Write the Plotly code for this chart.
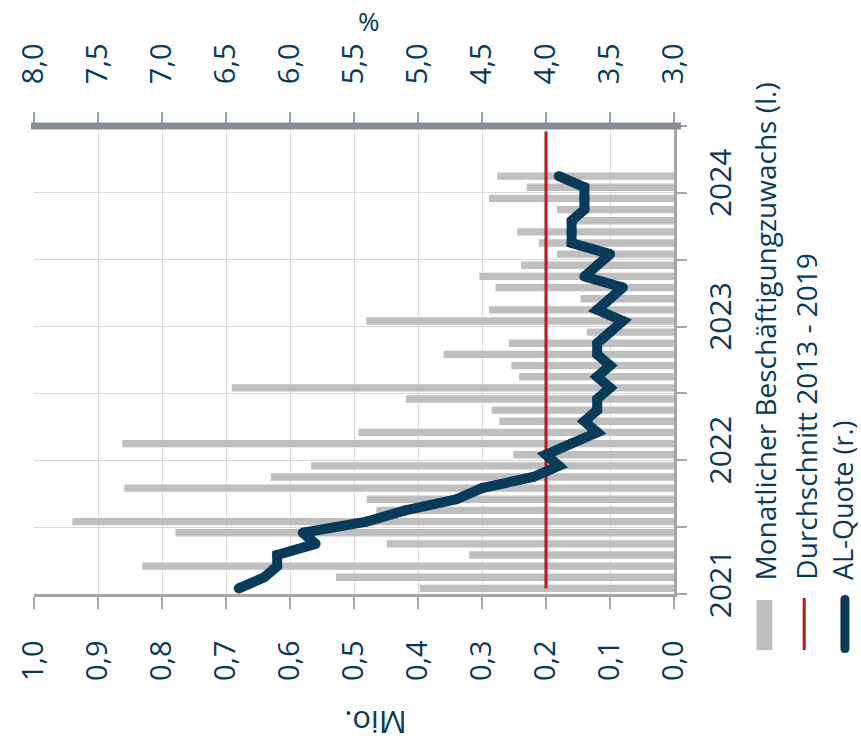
import plotly.graph_objects as go

# Monthly categories on the time axis (Jan 2021 - Jun 2024)
months = [
    "2021-01", "2021-02", "2021-03", "2021-04", "2021-05", "2021-06",
    "2021-07", "2021-08", "2021-09", "2021-10", "2021-11", "2021-12",
    "2022-01", "2022-02", "2022-03", "2022-04", "2022-05", "2022-06",
    "2022-07", "2022-08", "2022-09", "2022-10", "2022-11", "2022-12",
    "2023-01", "2023-02", "2023-03", "2023-04", "2023-05", "2023-06",
    "2023-07", "2023-08", "2023-09", "2023-10", "2023-11", "2023-12",
    "2024-01", "2024-02", "2024-03", "2024-04", "2024-05", "2024-06",
]

# Monatlicher Beschäftigungszuwachs, Mio. (left scale)
job_growth = [
    0.397, 0.528, 0.831, 0.320, 0.449, 0.779, 0.940, 0.465, 0.480, 0.859,
    0.630, 0.567, 0.251, 0.862, 0.493, 0.273, 0.285, 0.419, 0.691, 0.242,
    0.254, 0.360, 0.258, 0.136, 0.481, 0.289, 0.146, 0.279, 0.304, 0.239,
    0.183, 0.211, 0.245, 0.155, 0.183, 0.289, 0.230, 0.276,
]

# Arbeitslosenquote, % (right scale)
unemployment_rate = [
    6.4, 6.2, 6.1, 6.1, 5.8, 5.9, 5.4, 5.1, 4.7, 4.5,
    4.1, 3.9, 4.0, 3.8, 3.6, 3.7, 3.6, 3.6, 3.5, 3.6,
    3.5, 3.6, 3.6, 3.5, 3.4, 3.6, 3.5, 3.4, 3.7, 3.6,
    3.5, 3.8, 3.8, 3.8, 3.7, 3.7, 3.7, 3.9,
]

# Durchschnitt 2013 - 2019, Mio.
avg_2013_2019 = [0.2] * len(months)

year_labels = ["2021", "2022", "2023", "2024"]
year_positions = [months.index(y + "-01") for y in year_labels]
half_year_bounds = [i - 0.5 for i in range(0, len(months) + 1, 6)]

mio_ticks = [1.0, 0.9, 0.8, 0.7, 0.6, 0.5, 0.4, 0.3, 0.2, 0.1, 0.0]
pct_ticks = [8.0, 7.5, 7.0, 6.5, 6.0, 5.5, 5.0, 4.5, 4.0, 3.5, 3.0]

NAVY = "#083a59"
GREY_BAR = "#bfbfbf"
RED = "#c0141c"
AXIS_GREY = "#a6a6a6"
GRID = "#dadada"
FONT = "Open Sans"

pos = list(range(len(months)))

fig = go.Figure()

fig.add_trace(go.Bar(
    x=job_growth, y=pos[:len(job_growth)], orientation="h",
    marker=dict(color=GREY_BAR, line=dict(width=0)),
    name="Monatlicher Beschäftigungzuwachs (l.)",
    xaxis="x", yaxis="y",
))

fig.add_trace(go.Scatter(
    x=avg_2013_2019, y=pos, mode="lines",
    line=dict(color=RED, width=3),
    name="Durchschnitt 2013 - 2019",
    xaxis="x", yaxis="y",
))

fig.add_trace(go.Scatter(
    x=unemployment_rate, y=pos[:len(unemployment_rate)], mode="lines+markers",
    line=dict(color=NAVY, width=10),
    marker=dict(color=NAVY, size=10, line=dict(width=0)),
    name="AL-Quote (r.)",
    xaxis="x2", yaxis="y",
))

# Plot area in pixels: x 30..674, y 126..594
L, R, T, B = 30, 187, 126, 157
W, H = 861, 751
PW, PH = W - L - R, H - T - B


def px(xpix):
    return (xpix - L) / PW


def py(ypix):
    return (H - B - ypix) / PH


fig.update_layout(
    width=W, height=H,
    margin=dict(l=L, r=R, t=T, b=B, pad=0),
    plot_bgcolor="white", paper_bgcolor="white",
    showlegend=False,
    bargap=0.34,
    separators=",.",
    font=dict(family=FONT, color=NAVY),
    xaxis=dict(
        range=[1.0, 0.0], tickmode="array", tickvals=mio_ticks, tickformat=".1f",
        tickangle=-90, ticks="outside", ticklen=12, tickwidth=2, tickcolor=AXIS_GREY,
        showline=True, linecolor=AXIS_GREY, linewidth=2.5,
        showgrid=True, gridcolor=GRID, gridwidth=1.3, zeroline=False,
        tickfont=dict(size=29, color=NAVY), ticklabelstandoff=20,
    ),
    xaxis2=dict(
        overlaying="x", side="top", range=[8.0, 3.0], tickmode="array",
        tickvals=pct_ticks, tickformat=".1f", tickangle=-90,
        ticks="outside", ticklen=13, tickwidth=2, tickcolor="#9ca1a8",
        showline=False, showgrid=False, zeroline=False,
        tickfont=dict(size=29, color=NAVY), ticklabelstandoff=22,
    ),
    yaxis=dict(
        side="right", range=[-0.5, len(months) - 0.5],
        tickmode="array", tickvals=year_positions, ticktext=year_labels,
        tickangle=-90, ticks="", showgrid=False, zeroline=False,
        showline=True, linecolor=AXIS_GREY, linewidth=2.5,
        tickfont=dict(size=30, color=NAVY), ticklabelstandoff=18,
        minor=dict(tickmode="array", tickvals=half_year_bounds, ticks="outside",
                   ticklen=10, tickwidth=2, tickcolor=AXIS_GREY,
                   showgrid=True, gridcolor=GRID, gridwidth=1.3),
    ),
)

shapes = []
# thick top axis line of the percent scale
shapes.append(dict(type="line", xref="paper", yref="paper",
                   x0=px(27), x1=px(681), y0=1, y1=1,
                   line=dict(color="#878d95", width=7), layer="above"))

# legend keys
shapes.append(dict(type="rect", xref="paper", yref="paper",
                   x0=px(757), x1=px(773), y0=py(650), y1=py(600),
                   fillcolor=GREY_BAR, line=dict(width=0)))
shapes.append(dict(type="line", xref="paper", yref="paper",
                   x0=px(805), x1=px(805), y0=py(650), y1=py(598),
                   line=dict(color=RED, width=3)))
cx, top, bot, hw = 846, 595, 653, 4.5
wx, wy = hw / PW, hw / PH
xc, yt, yb = px(cx), py(top), py(bot)
capsule = (f"M {xc - wx} {yt - wy} L {xc - wx} {yb + wy} "
           f"Q {xc - wx} {yb} {xc} {yb} Q {xc + wx} {yb} {xc + wx} {yb + wy} "
           f"L {xc + wx} {yt - wy} Q {xc + wx} {yt} {xc} {yt} "
           f"Q {xc - wx} {yt} {xc - wx} {yt - wy} Z")
shapes.append(dict(type="path", xref="paper", yref="paper", path=capsule,
                   fillcolor=NAVY, line=dict(width=0)))
fig.update_layout(shapes=shapes)

legend_texts = [
    ("Monatlicher Beschäftigungzuwachs (l.)", 766, 28),
    ("Durchschnitt 2013 - 2019", 806, 28),
    ("AL-Quote (r.)", 843, 27),
]
annotations = []
for text, xpix, size in legend_texts:
    annotations.append(dict(
        text=text, xref="paper", yref="paper", x=px(xpix), y=py(582),
        xanchor="center", yanchor="bottom", textangle=-90, showarrow=False,
        font=dict(size=size, color=NAVY, family=FONT),
    ))
annotations.append(dict(
    text="%", xref="paper", yref="paper", x=px(367), y=py(1),
    xanchor="center", yanchor="top", showarrow=False,
    font=dict(size=26, color=NAVY, family=FONT),
))
annotations.append(dict(
    text="Mio.", xref="paper", yref="paper", x=px(373), y=py(723),
    xanchor="center", yanchor="middle", textangle=180, showarrow=False,
    font=dict(size=31, color=NAVY, family=FONT),
))
fig.update_layout(annotations=annotations)

fig.write_html("out.html")
